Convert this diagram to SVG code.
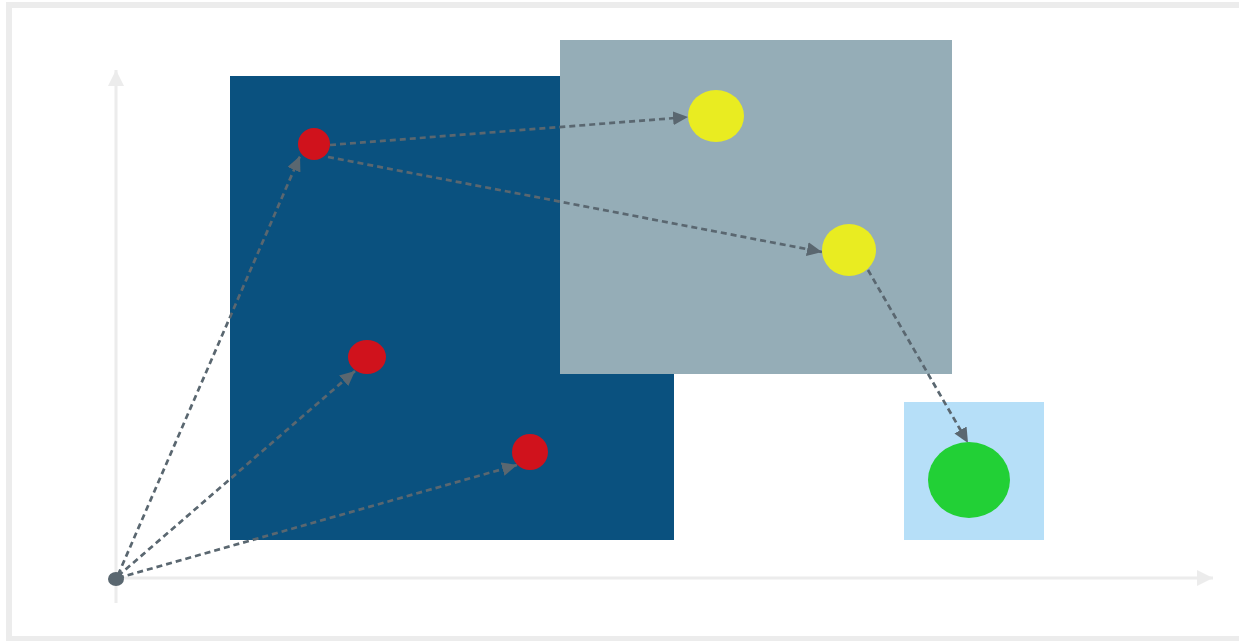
<svg xmlns="http://www.w3.org/2000/svg" width="1239" height="641" viewBox="0 0 1239 641">
  <defs>
    <style>
      .axis{stroke:#ececec;stroke-width:3;fill:none}
      .conn{stroke:#5a6770;stroke-width:2.7;stroke-dasharray:6 4;fill:none}
      .red{fill:#d0121c}
      .yellow{fill:#e9ec21}
      .green{fill:#22d036}
    </style>
    <marker id="arr" markerUnits="userSpaceOnUse" markerWidth="15" markerHeight="14" refX="15" refY="7" orient="auto">
      <path d="M0,0 L15,7 L0,14 z" fill="#5a6770"/>
    </marker>
    <marker id="axarr" markerUnits="userSpaceOnUse" markerWidth="16" markerHeight="16" refX="16" refY="8" orient="auto">
      <path d="M0,0 L16,8 L0,16 z" fill="#ececec"/>
    </marker>
  </defs>
  <rect x="0" y="0" width="1239" height="641" fill="#ffffff"/>
  <rect x="9" y="5" width="1240" height="634" fill="none" stroke="#ececec" stroke-width="6"/>
  <g id="axes">
    <line class="axis" x1="116" y1="603" x2="116" y2="70" marker-end="url(#axarr)"/>
    <line class="axis" x1="112" y1="578" x2="1213" y2="578" marker-end="url(#axarr)"/>
  </g>
  <g id="region-dark"><rect x="230" y="76" width="444" height="464" fill="#0a517f"/></g>
  <g id="region-gray"><rect x="560" y="40" width="392" height="334" fill="#95adb7"/></g>
  <g id="region-light"><rect x="904" y="402" width="140" height="138" fill="#b6dff8"/></g>
  <g id="connectors">
    <line class="conn" x1="118" y1="575" x2="300" y2="156" marker-end="url(#arr)"/>
    <line class="conn" x1="118" y1="576" x2="355" y2="371" marker-end="url(#arr)"/>
    <line class="conn" x1="118" y1="578" x2="517" y2="465" marker-end="url(#arr)"/>
    <line class="conn" x1="330" y1="145" x2="688" y2="117" marker-end="url(#arr)"/>
    <line class="conn" x1="328" y1="157" x2="822" y2="252" marker-end="url(#arr)"/>
    <line class="conn" x1="868" y1="270" x2="968" y2="443" marker-end="url(#arr)"/>
  </g>
  <g id="origin"><ellipse cx="116" cy="579" rx="8" ry="7" fill="#5a6770"/></g>
  <g id="red1"><ellipse class="red" cx="314" cy="144" rx="16" ry="16"/></g>
  <g id="red2"><ellipse class="red" cx="367" cy="357" rx="19" ry="17"/></g>
  <g id="red3"><ellipse class="red" cx="530" cy="452" rx="18" ry="18"/></g>
  <g id="yellow1"><ellipse class="yellow" cx="716" cy="116" rx="28" ry="26"/></g>
  <g id="yellow2"><ellipse class="yellow" cx="849" cy="250" rx="27" ry="26"/></g>
  <g id="green"><ellipse class="green" cx="969" cy="480" rx="41" ry="38"/></g>
</svg>
